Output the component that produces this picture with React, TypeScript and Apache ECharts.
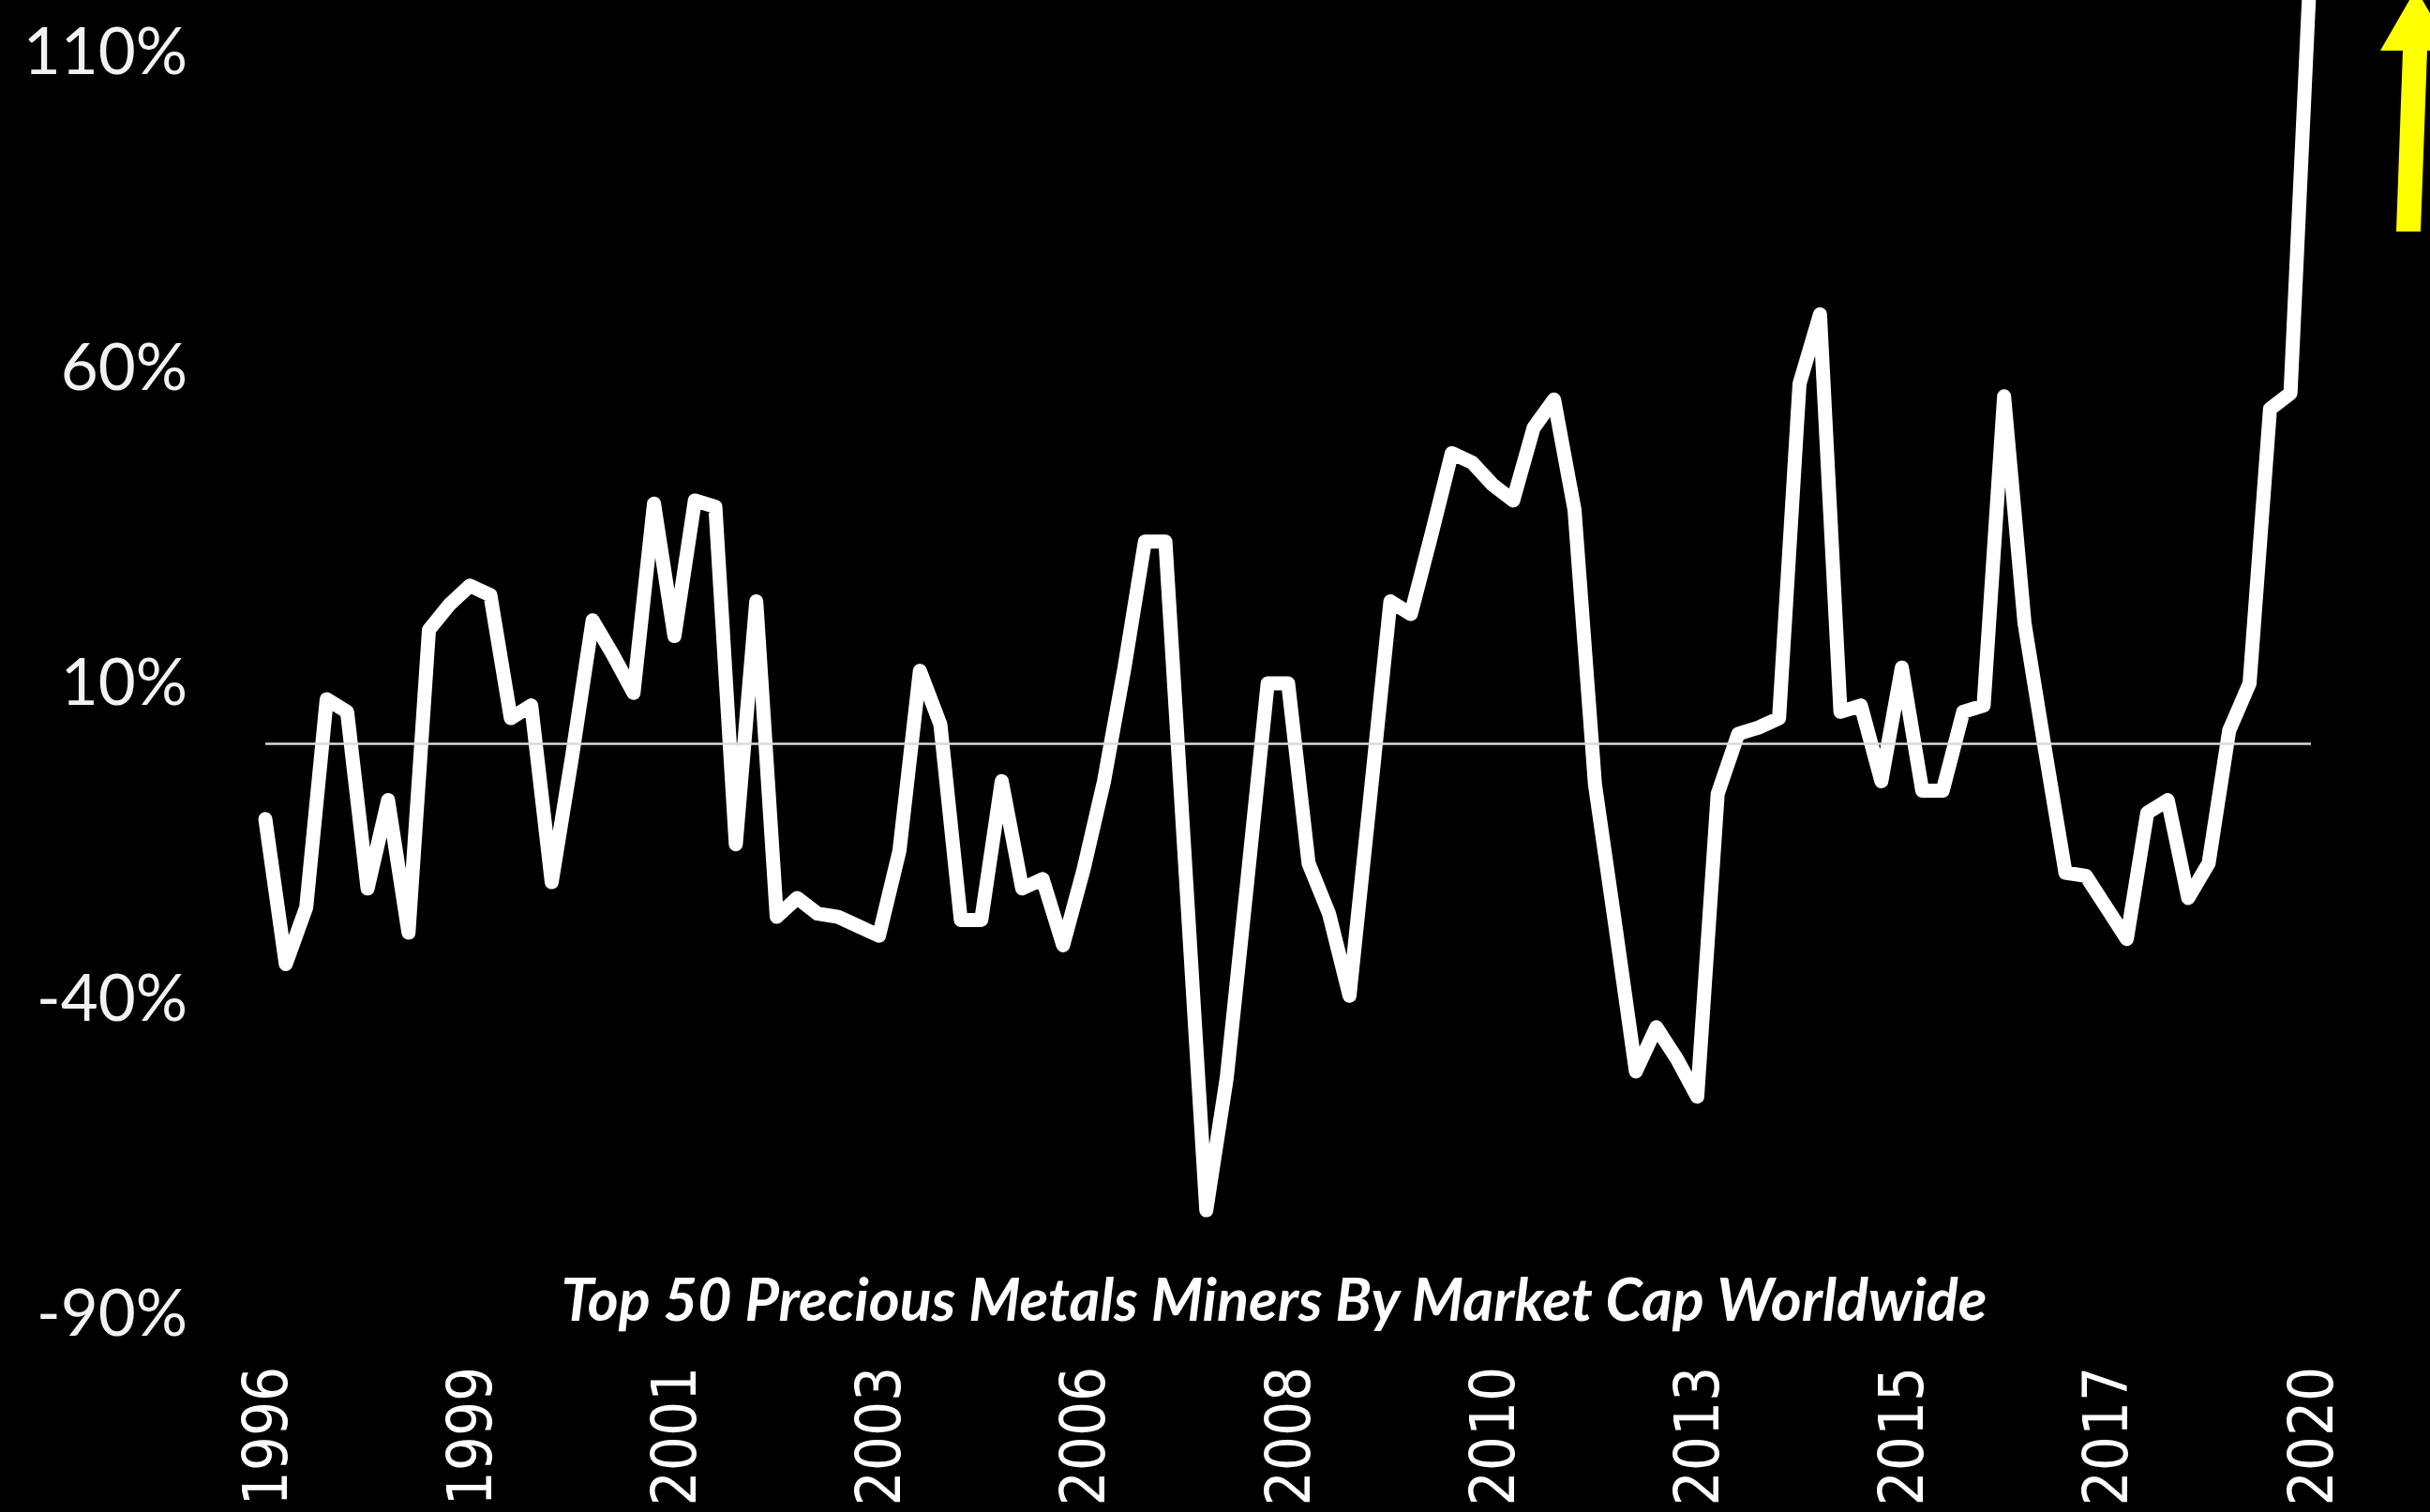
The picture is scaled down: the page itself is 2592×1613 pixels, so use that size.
import React, { useEffect, useRef } from "react";
import * as echarts from "echarts";

// Tick labels shown along the category axis (every 10th period)
const tickLabels = ["1996", "1999", "2001", "2003", "2006", "2008", "2010", "2013", "2015", "2017", "2020"];

// Year-over-year change (%) of the top 50 precious metals miners
const values = [
  -12, -35, -26, 7, 5, -23, -9, -30, 18, 22,
  25, 23.5, 4, 6, -22, -2, 19.5, 14, 8, 38,
  17, 38.5, 37.5, -16, 22.5, -27.5, -24.5, -27, -27.5, -29,
  -30.5, -17, 11.5, 3, -28, -28, -6, -23, -21.5, -32,
  -20, -6, 12, 32, 32, -21, -74, -53, -22, 9.5,
  9.5, -19, -27, -40, -9, 22.5, 20.5, 33, 46, 44.5,
  41, 38.5, 50, 54.5, 37, -6.5, -29, -52, -45, -50,
  -56, -8, 1.5, 2.5, 4, 57, 68, 5, 6, -6,
  12, -7.5, -7.5, 5, 6, 55, 19, -1, -20.5, -21,
  -26, -31, -11, -9, -24.5, -19, 2, 9.5, 53, 55.5,
  125,
];

const categories = values.map((_, i) => String(i));
const titleText = "Top 50 Precious Metals Miners By Market Cap Worldwide";

export default function App() {
  const ref = useRef<HTMLDivElement>(null);

  useEffect(() => {
    if (!ref.current) return;
    document.body.style.margin = "0";
    const chart = echarts.init(ref.current, null, { renderer: "svg", width: 2592, height: 1613 });
    const option = {
      backgroundColor: "#000000",
      animation: false,
      grid: {
        left: 283,
        top: 52.7,
        width: 2182,
        height: 1346,
        containLabel: false,
        outerBoundsMode: "none",
      },
      xAxis: {
        type: "category",
        data: categories,
        boundaryGap: false,
        axisLine: { show: false },
        axisTick: { show: false },
        splitLine: { show: false },
        axisLabel: {
          interval: 9,
          rotate: 90,
          margin: 59,
          color: "#ffffff",
          fontFamily: "'DejaVu Sans Condensed', 'DejaVu Sans'",
          fontSize: 65,
          formatter: (_v: string, i: number) => (i % 10 === 0 ? tickLabels[i / 10] : ""),
        },
      },
      yAxis: {
        type: "value",
        min: -90,
        max: 110,
        interval: 50,
        axisLine: { show: false },
        axisTick: { show: false },
        splitLine: { show: false },
        axisLabel: {
          margin: 83,
          color: "#f2f2f2",
          fontFamily: "Lato",
          fontSize: 69,
          formatter: "{value}%",
        },
      },
      series: [
        {
          type: "line",
          data: values,
          symbol: "none",
          clip: false,
          lineStyle: { color: "#ffffff", width: 15, cap: "round", join: "round" },
          markLine: {
            silent: true,
            symbol: "none",
            label: { show: false },
            lineStyle: { color: "#d9d9d9", width: 2.5, type: "solid" },
            data: [{ yAxis: 0 }],
          },
          z: 3,
        },
      ],
      graphic: [
        {
          type: "text",
          x: 1359,
          y: 1384,
          style: {
            text: titleText,
            fill: "#ffffff",
            fontSize: 63,
            fontFamily: "Lato",
            fontStyle: "italic",
            fontWeight: "bold",
            textAlign: "center",
            textVerticalAlign: "middle",
            align: "center",
            verticalAlign: "middle",
          },
        },
        {
          type: "polygon",
          shape: {
            points: [
              [2556, 247],
              [2582, 247],
              [2589, 54],
              [2615, 54],
              [2577, -12],
              [2539, 54],
              [2563, 54],
            ],
          },
          style: { fill: "#ffff00" },
        },
      ],
    };
    chart.setOption(option as any);
    return () => chart.dispose();
  }, []);

  return (
    <div
      ref={ref}
      style={{ position: "absolute", left: 0, top: 0, width: 2592, height: 1613, background: "#000" }}
    />
  );
}
